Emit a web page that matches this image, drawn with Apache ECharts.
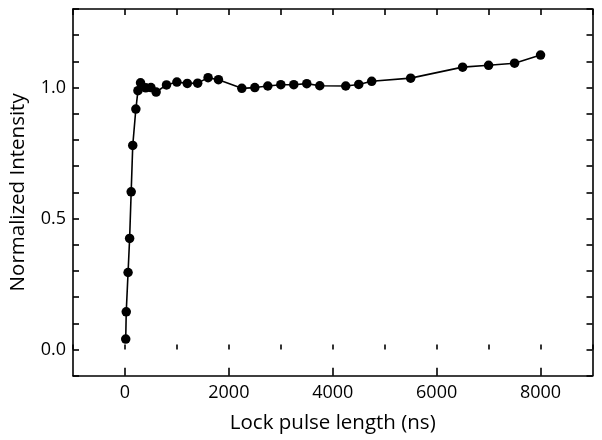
<!DOCTYPE html>
<html>
<head>
<meta charset="utf-8">
<script src="https://cdn.jsdelivr.net/npm/echarts@6/dist/echarts.min.js"></script>
<style>html,body{margin:0;padding:0;background:#fff}#c{width:602px;height:440px}</style>
</head>
<body>
<div id="c"></div>
<script>
var pulseLength = [15, 25, 60, 90, 120, 150, 210, 250, 300, 400, 500, 600, 800, 1000, 1200, 1400, 1600, 1800, 2250, 2500, 2750, 3000, 3250, 3500, 3750, 4250, 4500, 4750, 5500, 6500, 7000, 7500, 8000];
var intensity = [0.04, 0.144, 0.294, 0.424, 0.602, 0.779, 0.918, 0.988, 1.018, 0.999, 1.0, 0.983, 1.01, 1.021, 1.016, 1.017, 1.038, 1.03, 0.997, 1.0, 1.006, 1.011, 1.011, 1.015, 1.007, 1.006, 1.012, 1.024, 1.036, 1.078, 1.085, 1.093, 1.124];
var xMajorTicks = [0, 2000, 4000, 6000, 8000];
var yLabelTicks = [0, 0.5, 1.0];

var chart = echarts.init(document.getElementById('c'));
var font = 'Open Sans';
var gridRect = {left: 72.5, right: 9.5, top: 9, bottom: 64.3, containLabel: false};
var lineStyle = {color: '#000', width: 1.6};
chart.setOption({
  animation: false,
  grid: [Object.assign({}, gridRect), Object.assign({}, gridRect)],
  xAxis: [{
    type: 'value', gridIndex: 0, position: 'bottom', min: -1000, max: 9000, interval: 1000,
    axisLine: {show: true, onZero: false, lineStyle: lineStyle},
    axisTick: {show: true, inside: true, length: 8, customValues: xMajorTicks, lineStyle: lineStyle},
    axisLabel: {show: true, customValues: xMajorTicks, color: '#000', fontFamily: font, fontSize: 18, margin: 8,
      formatter: function (v) { return String(v); }},
    splitLine: {show: false},
    name: 'Lock pulse length (ns)', nameLocation: 'middle', nameGap: 37,
    nameTextStyle: {color: '#000', fontFamily: font, fontSize: 20.5}
  }, {
    type: 'value', gridIndex: 0, position: 'top', min: -1000, max: 9000, interval: 1000,
    axisLine: {show: true, onZero: false, lineStyle: lineStyle},
    axisTick: {show: true, inside: true, length: 6, lineStyle: lineStyle},
    axisLabel: {show: false}, splitLine: {show: false}
  }, {
    type: 'value', gridIndex: 1, position: 'bottom', min: -1000, max: 9000, interval: 1000,
    axisLine: {show: false},
    axisTick: {show: true, inside: true, length: 5, lineStyle: lineStyle},
    axisLabel: {show: false}, splitLine: {show: false}
  }],
  yAxis: [{
    type: 'value', gridIndex: 0, position: 'left', min: -0.1, max: 1.3, interval: 0.1,
    axisLine: {show: true, onZero: false, lineStyle: lineStyle},
    axisTick: {show: true, inside: true, length: 6, lineStyle: lineStyle},
    axisLabel: {show: true, customValues: yLabelTicks, color: '#000', fontFamily: font, fontSize: 18, margin: 7,
      formatter: function (v) { return v.toFixed(1); }},
    splitLine: {show: false},
    name: 'Normalized Intensity', nameLocation: 'middle', nameGap: 44,
    nameTextStyle: {color: '#000', fontFamily: font, fontSize: 20.5}
  }, {
    type: 'value', gridIndex: 0, position: 'right', min: -0.1, max: 1.3, interval: 0.1,
    axisLine: {show: true, onZero: false, lineStyle: lineStyle},
    axisTick: {show: true, inside: true, length: 6, lineStyle: lineStyle},
    axisLabel: {show: false}, splitLine: {show: false}
  }, {
    type: 'value', gridIndex: 1, show: false, min: -0.1, max: 1.3
  }],
  series: [{
    type: 'line', xAxisIndex: 0, yAxisIndex: 0,
    data: pulseLength.map(function (x, i) { return [x, intensity[i]]; }),
    symbol: 'circle', symbolSize: 9.5,
    itemStyle: {color: '#000'},
    lineStyle: {color: '#000', width: 1.6}
  }]
});
</script>
</body>
</html>
